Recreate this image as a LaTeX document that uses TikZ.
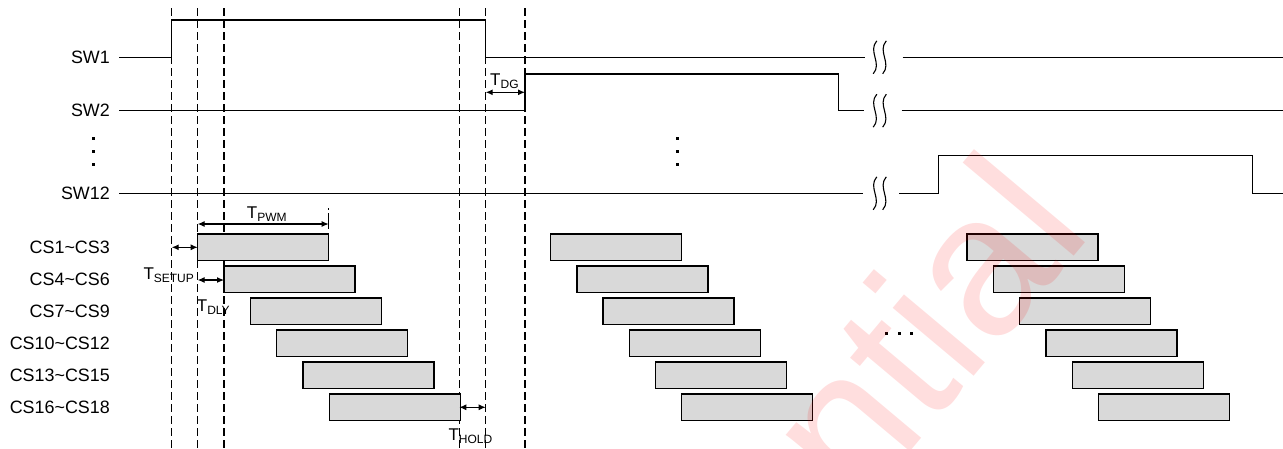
\documentclass[tikz,border=0pt]{standalone}
\usepackage{fontspec}
\setmainfont{Liberation Sans}
\usetikzlibrary{arrows.meta}
\definecolor{boxgray}{RGB}{217,217,217}
\newcommand\tsub[1]{\raisebox{-3pt}{\fontsize{12}{12}\selectfont #1}}
\begin{document}
\begin{tikzpicture}[x=1pt,y=-1pt,
  sig/.style={line width=1.3pt, line join=miter},
  guide/.style={line width=1.1pt, dash pattern=on 7.5pt off 4.5pt},
  csbox/.style={draw, line width=1.3pt, fill=boxgray, minimum width=131pt, minimum height=26.5pt, inner sep=0pt, outer sep=0pt, anchor=north west},
  lbl/.style={anchor=east, inner sep=0pt, font=\fontsize{17.9}{20}\selectfont},
  tlabel/.style={anchor=base west, inner sep=0pt, font=\fontsize{17}{20}\selectfont},
  dimarrow/.style={line width=1.1pt, {Latex[length=7pt,width=6pt]}-{Latex[length=7pt,width=6pt]}},
  brk/.style={line width=1.1pt},
  dotmark/.style={fill, minimum size=3pt, inner sep=0pt, outer sep=0pt},
]
\useasboundingbox[fill=white] (0,0) rectangle (1283,448);

% guide lines
\foreach \n/\x in {1/171.7,2/197.7,3/224,4/459.3,5/485.7,6/525} {
  \coordinate (g\n t) at (\x,8.3);
  \coordinate (g\n b) at (\x,448);
  \draw[guide] (g\n t) -- (g\n b);
}

% labels
\node[lbl] (lsw1) at (110,57.3) {SW1};
\node[lbl] (lsw2) at (110,110.7) {SW2};
\node[lbl] (lsw12) at (110,193.3) {SW12};
\foreach \t [count=\k from 0] in {CS1\textasciitilde CS3,CS4\textasciitilde CS6,CS7\textasciitilde CS9,CS10\textasciitilde CS12,CS13\textasciitilde CS15,CS16\textasciitilde CS18} {
  \node[lbl] (lcs\k) at (110,{247.8+32*\k}) {\t};
}

% vertical dots
\foreach \y [count=\i] in {138.3,151.7,164} {
  \node[dotmark] (vdl\i) at (93.3,\y) {};
  \node[dotmark] (vdm\i) at (677.7,\y) {};
}
% horizontal dots
\foreach \x [count=\i] in {886.7,899.3,911.7} {
  \node[dotmark] (hd\i) at (\x,333.3) {};
}

% signals
\draw[sig] (119,57.3) -- (171.7,57.3) -- (171.7,20) -- (485.7,20) -- (485.7,57.3) -- (865,57.3);
\draw[sig] (902.5,57.3) -- (1283,57.3);
\draw[sig] (119,110.7) -- (525,110.7) -- (525,74) -- (838.7,74) -- (838.7,110.7) -- (864,110.7);
\draw[sig] (901.7,110.7) -- (1283,110.7);
\draw[sig] (119,193.3) -- (863.3,193.3);
\draw[sig] (899,193.3) -- (938.3,193.3) -- (938.3,155.7) -- (1252.7,155.7) -- (1252.7,193.3) -- (1283,193.3);

% break symbols
\foreach \y in {57.3,110.7,193.3} {
  \foreach \cx in {875,884.5} {
    \draw[brk] (\cx+1.8,\y-16.5) .. controls (\cx-7.5,\y-6) and (\cx+7.5,\y+6) .. (\cx-1.8,\y+16.5);
  }
}

% CS boxes
\foreach \k in {0,...,5} {
  \node[csbox] (L\k) at ({197.7+26.3*\k},{234+32*\k}) {};
  \node[csbox] (M\k) at ({550.7+26.2*\k},{234+32*\k}) {};
  \node[csbox] (R\k) at ({967+26.3*\k},{234+32*\k}) {};
}

% dimension arrows
\coordinate (pwmA) at (197.7,224);
\coordinate (pwmB) at (328.7,224);
\draw[dimarrow] (pwmA) -- (pwmB);
\coordinate (pwmT1) at (328.7,208);
\coordinate (pwmT2) at (328.7,229);
\draw[line width=1.1pt, dash pattern=on 2pt off 3pt on 16pt] (pwmT1) -- (pwmT2);
\node[tlabel] (tpwm) at (246.7,218.3) {T\tsub{PWM}};

\coordinate (dgA) at (485.7,92.3);
\coordinate (dgB) at (525,92.3);
\draw[dimarrow] (dgA) -- (dgB);
\node[tlabel] (tdg) at (490,85) {T\tsub{DG}};

\coordinate (suA) at (171.7,247.3);
\coordinate (suB) at (197.7,247.3);
\draw[dimarrow] (suA) -- (suB);
\node[tlabel] (tsetup) at (143.3,279.3) {T\tsub{SETUP}};

\coordinate (dlA) at (197.7,280);
\coordinate (dlB) at (224,280);
\draw[dimarrow] (dlA) -- (dlB);
\node[tlabel] (tdly) at (196.7,311.7) {T\tsub{DLY}};

\coordinate (hoA) at (459.3,407.3);
\coordinate (hoB) at (485.7,407.3);
\draw[dimarrow] (hoA) -- (hoB);
\node[tlabel] (thold) at (448.3,440) {T\tsub{HOLD}};

% watermark
\begin{scope}
\clip (0,0) rectangle (1283,448);
\node[anchor=base west, inner sep=0pt, rotate=50, text=red, text opacity=0.13, font=\fontsize{200}{210}\selectfont] (wm) at (415,1042) {Confidential};
\end{scope}
\end{tikzpicture}
\end{document}
